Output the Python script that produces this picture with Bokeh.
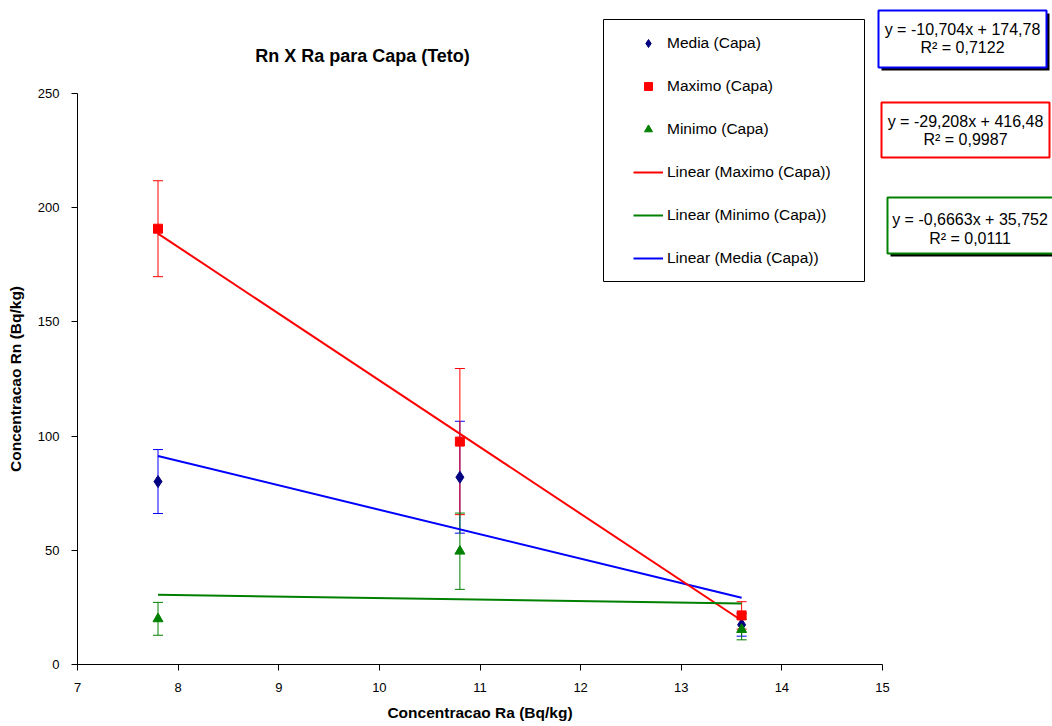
from bokeh.plotting import figure
from bokeh.models import (ColumnDataSource, Whisker, TeeHead, Legend, LegendItem,
                          BoxAnnotation, Label, FixedTicker, Range1d)
from bokeh.embed import file_html
from bokeh.resources import INLINE

# ---------------- data ----------------
ra = [7.8, 10.8, 13.6]
media = [80.1, 82.0, 17.4]
media_err = [14.0, 24.5, 5.0]
maximo = [190.8, 97.6, 21.5]
maximo_err = [21.0, 32.0, 6.0]
minimo = [20.0, 49.6, 15.3]
minimo_err = [7.2, 16.7, 4.5]

# trend lines (Excel linear fits): Media, Maximo, Minimo
trend_names = ["Media", "Maximo", "Minimo"]
trend_slope = [-10.704, -29.208, -0.6663]
trend_intercept = [174.78, 416.48, 35.752]
trend_eq = ["y = -10,704x + 174,78", "y = -29,208x + 416,48", "y = -0,6663x + 35,752"]
trend_r2 = ["R\u00b2 = 0,7122", "R\u00b2 = 0,9987", "R\u00b2 = 0,0111"]

x_ticks = [7, 8, 9, 10, 11, 12, 13, 14, 15]
y_ticks = [0, 50, 100, 150, 200, 250]

# ---------------- layout constants (pixels) ----------------
W, H = 1052, 726
FL, FR, FT, FB = 77, 882, 93, 664      # plot area of the reference
XMIN, XMAX, YMIN, YMAX = 7, 15, 0, 250
FONT = "Liberation Sans"

def px2x(px):
    return XMIN + (px - FL) * (XMAX - XMIN) / (FR - FL)

def py2y(py):
    return YMIN + (FB - py) * (YMAX - YMIN) / (FB - FT)

NAVY, RED, GREEN, BLUE = "#000080", "#FF0000", "#008000", "#0000FF"

# the frame covers the whole canvas; the axes are pinned at the plot-area edges
p = figure(width=W, height=H, x_range=Range1d(px2x(0), px2x(W)), y_range=Range1d(py2y(H), py2y(0)),
           output_backend="svg", toolbar_location=None, min_border=0)
p.outline_line_color = None
p.xgrid.visible = False
p.ygrid.visible = False
p.background_fill_color = "white"
p.border_fill_color = "white"

# axes
for ax in (p.xaxis[0], p.yaxis[0]):
    ax.axis_line_color = "#000000"
    ax.major_tick_line_color = "#000000"
    ax.major_tick_out = 6
    ax.major_tick_in = 0
    ax.minor_tick_line_color = None
    ax.major_label_text_font = FONT
    ax.major_label_text_font_size = "13px"
    ax.major_label_text_color = "#000000"
    ax.axis_label_text_font = FONT
    ax.axis_label_text_font_size = "15.5px"
    ax.axis_label_text_font_style = "bold"
    ax.axis_label_text_color = "#000000"
p.xaxis.ticker = FixedTicker(ticks=x_ticks)
p.yaxis.ticker = FixedTicker(ticks=y_ticks)
p.xaxis.bounds = (XMIN, XMAX)
p.yaxis.bounds = (YMIN, YMAX)
p.xaxis.fixed_location = YMIN
p.yaxis.fixed_location = XMIN
p.xaxis.axis_label = "Concentracao Ra (Bq/kg)"
p.yaxis.axis_label = "Concentracao Rn (Bq/kg)"
p.xaxis.major_label_standoff = 12
p.yaxis.major_label_standoff = 12
p.xaxis.axis_label_standoff = 9
p.yaxis.axis_label_standoff = 11

# title
p.add_layout(Label(x=px2x(362), y=py2y(55), text="Rn X Ra para Capa (Teto)",
                   text_align="center", text_baseline="middle", text_font=FONT,
                   text_font_size="18px", text_font_style="bold", text_color="black"))

# error bars
def add_err(vals, errs, color):
    src = ColumnDataSource(dict(x=ra, lo=[v - e for v, e in zip(vals, errs)],
                                hi=[v + e for v, e in zip(vals, errs)]))
    w = Whisker(source=src, base="x", lower="lo", upper="hi", line_color=color, line_width=1,
                upper_head=TeeHead(size=10, line_color=color, line_width=1),
                lower_head=TeeHead(size=10, line_color=color, line_width=1))
    p.add_layout(w)

add_err(media, media_err, BLUE)
add_err(maximo, maximo_err, RED)
add_err(minimo, minimo_err, GREEN)

# trend lines
x0, x1 = min(ra), max(ra)
trend_colors = [BLUE, RED, GREEN]
trend_r = {}
for name, m, b, c in zip(trend_names, trend_slope, trend_intercept, trend_colors):
    trend_r[name] = p.line([x0, x1], [m * x0 + b, m * x1 + b], line_color=c, line_width=2)

# markers
r_media = p.scatter(ra, media, marker="diamond", size=12, fill_color=NAVY, line_color=NAVY)
r_max = p.scatter(ra, maximo, marker="square", size=9, fill_color=RED, line_color=RED)
r_min = p.scatter(ra, minimo, marker="triangle", size=10, fill_color=GREEN, line_color=GREEN)

# legend frame
p.add_layout(BoxAnnotation(left=px2x(603), right=px2x(864), top=py2y(19), bottom=py2y(281),
                           fill_color="white", fill_alpha=1, line_color="#000000",
                           line_alpha=1, line_width=1, level="annotation"))

legend = Legend(items=[
    LegendItem(label="Media (Capa)", renderers=[r_media]),
    LegendItem(label="Maximo (Capa)", renderers=[r_max]),
    LegendItem(label="Minimo (Capa)", renderers=[r_min]),
    LegendItem(label="Linear (Maximo (Capa))", renderers=[trend_r["Maximo"]]),
    LegendItem(label="Linear (Minimo (Capa))", renderers=[trend_r["Minimo"]]),
    LegendItem(label="Linear (Media (Capa))", renderers=[trend_r["Media"]]),
], location=(633, H - (33 + 6 * 20 + 5 * 23)))
legend.padding = 0
legend.margin = 0
legend.spacing = 23
legend.glyph_width = 30
legend.glyph_height = 20
legend.label_height = 20
legend.label_standoff = 4
legend.border_line_alpha = 0
legend.background_fill_alpha = 0
legend.label_text_font = FONT
legend.label_text_font_size = "15.5px"
legend.label_text_color = "#000000"
p.add_layout(legend, "center")

# equation boxes
eq_boxes = [  # (left, right, top, bottom, line1_y, line2_y, shadow)
    (878, 1046, 10, 67, 29, 47, True),
    (881, 1049, 102, 157, 121, 139, False),
    (887, 1058, 197, 253, 219, 238, True),
]
for (l, r, t, b, y1, y2, sh), c, eq, r2 in zip(eq_boxes, trend_colors, trend_eq, trend_r2):
    if sh:
        p.add_layout(BoxAnnotation(left=px2x(l + 3), right=px2x(r + 3), top=py2y(t + 3),
                                   bottom=py2y(b + 3), fill_color="black", fill_alpha=1,
                                   line_color=None, level="annotation"))
    p.add_layout(BoxAnnotation(left=px2x(l), right=px2x(r), top=py2y(t), bottom=py2y(b),
                               fill_color="white", fill_alpha=1, line_color=c, line_alpha=1,
                               line_width=2, level="annotation"))
    cx = px2x((l + min(r, 1052)) / 2)
    for txt, yy in ((eq, y1), (r2, y2)):
        p.add_layout(Label(x=cx, y=py2y(yy), text=txt, text_align="center",
                           text_baseline="middle", text_font=FONT, text_font_size="16px",
                           text_color="black"))

open("out.html", "w").write(file_html(p, INLINE))
